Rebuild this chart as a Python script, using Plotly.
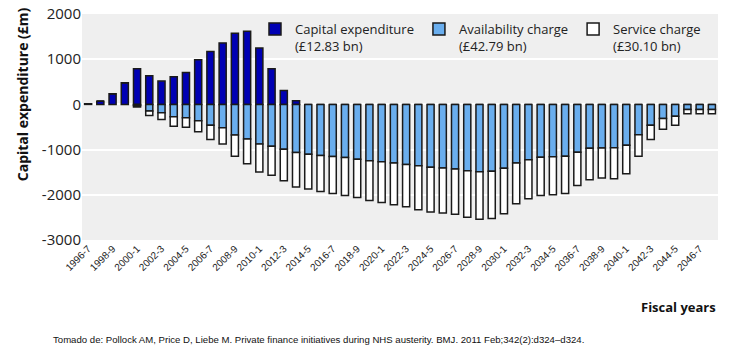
import plotly.graph_objects as go

years = [f"{y}-{(y + 1) % 10}" for y in range(1996, 2048)]
tick_years = years[::2]

capital = [15, 67, 237, 481, 790, 635, 515, 612, 707, 990, 1170, 1360, 1575, 1618, 1248, 790, 305, 82] + [0] * 34

availability = [0, 0, 0, 0, -25, -148, -185, -274, -296, -360, -459, -518, -675, -765, -874, -926,
                -990, -1062, -1105, -1130, -1152, -1175, -1212, -1244, -1270, -1296, -1330, -1356,
                -1390, -1407, -1430, -1467, -1490, -1481, -1412, -1296, -1222, -1170, -1160, -1145,
                -1059, -972, -963, -960, -904, -670, -462, -314, -263, -115, -115, -115]

service = [0, 0, 0, 0, -35, -96, -148, -207, -208, -247, -319, -356, -473, -546, -622, -644,
           -699, -768, -769, -796, -818, -840, -847, -882, -900, -926, -937, -977, -988, -993,
           -1000, -1029, -1051, -1045, -1010, -904, -867, -845, -840, -825, -734, -695, -667,
           -684, -629, -478, -316, -234, -196, -92, -92, -92]

series_names = ["Capital expenditure<br>(£12.83 bn)",
                "Availability charge<br>(£42.79 bn)",
                "Service charge<br>(£30.10 bn)"]
colors = ["#0000b4", "#6aaeee", "#ffffff"]

y_ticks = [2000, 1000, 0, -1000, -2000, -3000]
y_ticktext = [str(v) for v in y_ticks]

narrow = "Liberation Sans, Arial, sans-serif"

fig = go.Figure()
for name, vals, col in zip(series_names, [capital, availability, service], colors):
    fig.add_trace(go.Bar(x=years, y=vals, name=name, marker=dict(color=col, line=dict(color="#1a1a1a", width=1.5))))

fig.update_layout(
    width=735, height=356,
    margin=dict(l=82, r=17, t=14, b=116, autoexpand=False),
    barmode="relative",
    bargap=0.42,
    paper_bgcolor="white",
    plot_bgcolor="#efefef",
    font=dict(family="Open Sans, sans-serif", color="#222"),
    legend=dict(orientation="h", x=0.272, y=1.0, xanchor="left", yanchor="top",
                bgcolor="rgba(0,0,0,0)", font=dict(size=13, color="#222"),
                valign="top", traceorder="normal", itemwidth=30,
                tracegroupgap=0),
    xaxis=dict(type="category", range=[-0.5, 51.5], tickmode="array", automargin=False,
               tickvals=tick_years, ticktext=tick_years, tickangle=-45, ticklen=0,
               tickfont=dict(family=narrow, size=10, color="#222"),
               showgrid=False, ticks="", showline=False, zeroline=False),
    yaxis=dict(range=[-3000, 2000], tickmode="array", tickvals=y_ticks, ticktext=y_ticktext, automargin=False,
               ticklen=0, tickfont=dict(size=15, color="#222"), showgrid=True, gridcolor="white", gridwidth=2,
               zeroline=False, ticks="", showline=False),
    showlegend=True,
)

fig.add_annotation(text="<b>Capital expenditure (£m)</b>", textangle=-90, xref="paper", yref="paper",
                   x=-0.094, y=0.646, showarrow=False, font=dict(size=14, color="#111"),
                   xanchor="center", yanchor="middle")
fig.add_annotation(text="<b>Fiscal years</b>", xref="paper", yref="paper", x=1.0, y=-0.295,
                   xanchor="right", yanchor="middle", showarrow=False, font=dict(size=13, color="#111"))
fig.add_annotation(text="Tomado de: Pollock AM, Price D, Liebe M. Private finance initiatives during NHS austerity. BMJ. 2011 Feb;342(2):d324–d324.",
                   xref="paper", yref="paper", x=-0.049, y=-0.44, xanchor="left", yanchor="middle",
                   showarrow=False, font=dict(family=narrow, size=9.6, color="#111"))

fig.write_html("out.html", config={"displayModeBar": False},
               post_script="document.body.style.margin='0';")
